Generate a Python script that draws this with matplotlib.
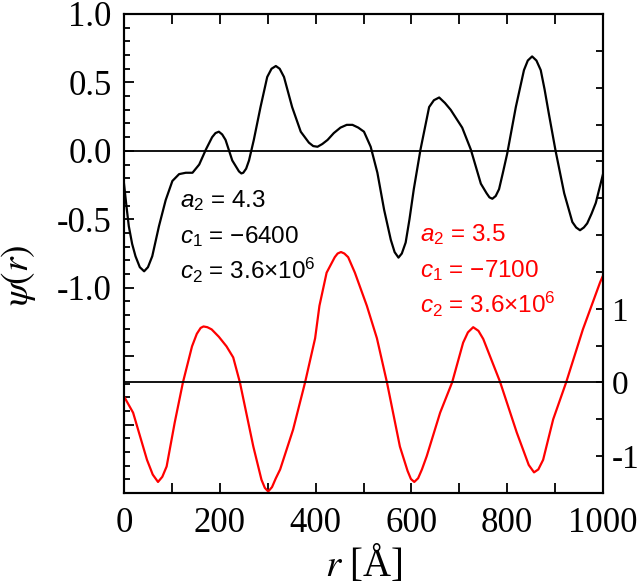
import numpy as np
import matplotlib
matplotlib.use("Agg")
from matplotlib import pyplot as plt
from matplotlib.ticker import MultipleLocator, FixedLocator, FuncFormatter

# black curve (left axis)
r_black = [0, 5, 10, 17, 24, 33, 42, 50, 59, 73, 87, 101, 115, 129, 143, 157,
           171, 184, 191, 198, 205, 212, 226, 240, 245, 249, 255, 261, 271,
           285, 299, 308, 317, 325, 334, 351, 369, 386, 395, 404, 414, 425,
           438, 452, 465, 477, 489, 501, 515, 529, 543, 557, 565, 573, 580,
           588, 596, 605, 619, 637, 647, 658, 670, 682, 706, 724, 745, 757,
           763, 769, 776, 783, 791, 800, 818, 835, 843, 852, 861, 870, 878,
           887, 901, 919, 936, 944, 952, 960, 967, 976, 985, 1000]
psi_black = [-0.24, -0.40, -0.55, -0.68, -0.77, -0.85, -0.88, -0.85, -0.77,
             -0.55, -0.36, -0.22, -0.17, -0.16, -0.16, -0.10, 0.01, 0.10, 0.13,
             0.14, 0.12, 0.08, -0.07, -0.15, -0.165, -0.16, -0.13, -0.07, 0.08,
             0.32, 0.54, 0.60, 0.62, 0.60, 0.54, 0.32, 0.14, 0.06, 0.035, 0.03,
             0.05, 0.08, 0.13, 0.17, 0.19, 0.19, 0.17, 0.14, 0.03, -0.16, -0.43,
             -0.65, -0.74, -0.78, -0.75, -0.67, -0.50, -0.28, 0.01, 0.32, 0.37,
             0.39, 0.35, 0.30, 0.17, 0.01, -0.24, -0.31, -0.34, -0.35, -0.33,
             -0.28, -0.16, -0.02, 0.32, 0.59, 0.66, 0.69, 0.66, 0.59, 0.45,
             0.27, 0.0, -0.31, -0.52, -0.56, -0.58, -0.56, -0.53, -0.46, -0.38,
             -0.17]

# red curve (right axis)
r_red = [0, 19, 48, 60, 71, 80, 89, 106, 123, 142, 152, 160, 166, 174, 183,
         198, 214, 228, 242, 270, 287, 294, 301, 309, 317, 326, 353, 378, 399,
         408, 423, 440, 446, 453, 460, 468, 482, 507, 528, 549, 576, 592, 599,
         606, 614, 622, 632, 660, 685, 708, 718, 729, 740, 750, 785, 820, 845,
         856, 865, 875, 896, 923, 958, 994, 1000]
psi_red = [-0.19, -0.41, -1.05, -1.25, -1.35, -1.28, -1.14, -0.54, 0.0, 0.49,
           0.66, 0.74, 0.76, 0.75, 0.72, 0.62, 0.49, 0.34, 0.0, -0.87, -1.32,
           -1.43, -1.48, -1.42, -1.30, -1.18, -0.64, 0.0, 0.60, 1.04, 1.49,
           1.70, 1.75, 1.77, 1.75, 1.70, 1.49, 1.04, 0.60, 0.0, -0.87, -1.20,
           -1.31, -1.35, -1.30, -1.18, -1.0, -0.41, 0.0, 0.54, 0.68, 0.75,
           0.70, 0.59, 0.01, -0.68, -1.12, -1.22, -1.18, -1.05, -0.50, 0.0,
           0.72, 1.36, 1.45]

left_labels = [-1.0, -0.5, 0.0, 0.5, 1.0]
right_labels = [-1, 0, 1]

black_params = [r"$a_2$ = 4.3", r"$c_1$ = −6400", r"$c_2$ = 3.6$\times$10$^6$"]
red_params = [r"$a_2$ = 3.5", r"$c_1$ = −7100", r"$c_2$ = 3.6$\times$10$^6$"]

plt.rcParams["mathtext.fontset"] = "custom"
plt.rcParams["mathtext.rm"] = "Liberation Sans"
plt.rcParams["mathtext.it"] = "Liberation Sans:italic"
plt.rcParams["axes.linewidth"] = 1.5

serif = "Liberation Serif"
lw = 1.6

fig = plt.figure(figsize=(6.4, 5.88), dpi=100)
ax = fig.add_axes([124 / 640, 95 / 588, 479 / 640, 479 / 588])
ax2 = ax.twinx()

ax.plot(r_black, psi_black, color="black", linewidth=lw,
        solid_joinstyle="round")
ax.axhline(0, color="black", linewidth=1.3)
ax2.plot(r_red, psi_red, color="red", linewidth=lw, solid_joinstyle="round")
ax2.axhline(0, color="black", linewidth=1.3)

ax.set_xlim(0, 1000)
ax.set_ylim(-2.5, 1.0)
ax2.set_ylim(-1.5, 5.0)

# x axis
ax.xaxis.set_major_locator(MultipleLocator(200))
ax.xaxis.set_minor_locator(MultipleLocator(100))
ax.tick_params(axis="x", which="both", direction="in", top=True, bottom=True,
               length=7, width=1.3, pad=10, labelsize=25)

# left axis
ax.yaxis.set_major_locator(FixedLocator(np.arange(-2.5, 1.01, 0.5)))
ax.yaxis.set_minor_locator(MultipleLocator(0.1))


def left_fmt(v, pos):
    v = round(v, 2)
    if any(abs(v - t) < 1e-6 for t in left_labels):
        return "0.0" if abs(v) < 1e-6 else f"{v:.1f}"
    return ""


ax.yaxis.set_major_formatter(FuncFormatter(left_fmt))
ax.tick_params(axis="y", which="major", direction="in", left=True, right=False,
               length=7, width=1.3, pad=9, labelsize=25)
ax.tick_params(axis="y", which="minor", direction="in", left=True, right=False,
               length=4.5, width=1.3)

# right axis
ax2.yaxis.set_major_locator(FixedLocator(np.arange(-1.5, 5.01, 0.5)))


def right_fmt(v, pos):
    v = round(v, 2)
    if any(abs(v - t) < 1e-6 for t in right_labels):
        return "0" if abs(v) < 1e-6 else f"{v:.0f}"
    return ""


ax2.yaxis.set_major_formatter(FuncFormatter(right_fmt))
ax2.tick_params(axis="y", which="major", direction="in", right=True,
                length=5, width=1.3, pad=6, labelsize=24)

for a in (ax, ax2):
    for lab in a.get_xticklabels() + a.get_yticklabels():
        lab.set_family(serif)

ax.set_xlabel(r"$r$ [Å]", fontsize=28, family=serif, math_fontfamily="stix",
              labelpad=2)
ax.set_ylabel(r"$\psi(r)$", fontsize=27, family=serif, math_fontfamily="stix")
ax.yaxis.set_label_coords(-0.18, 0.455)

# parameter boxes
for i, s in enumerate(black_params):
    fig.text(180 / 640, 1 - (207 + 36 * i) / 588, s, color="black",
             fontsize=17.5, family="Liberation Sans", va="baseline")
for i, s in enumerate(red_params):
    fig.text(420 / 640, 1 - (241 + 36 * i) / 588, s, color="red",
             fontsize=17.5, family="Liberation Sans", va="baseline")

fig.savefig("out.png", dpi=100)
